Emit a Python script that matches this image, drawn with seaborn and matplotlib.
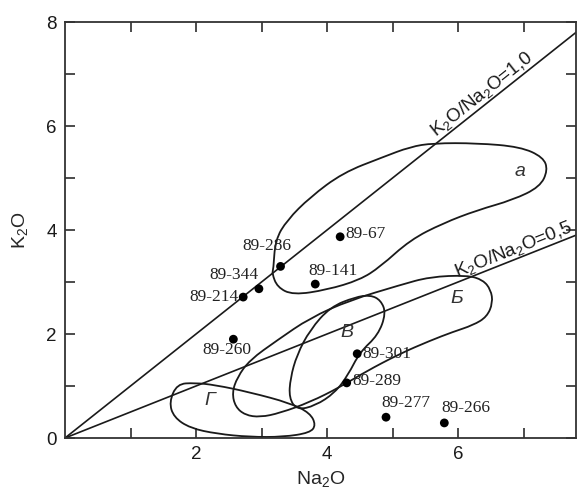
import numpy as np
import pandas as pd
import matplotlib
matplotlib.use("Agg")
import matplotlib.pyplot as plt
from matplotlib.path import Path
from matplotlib.patches import PathPatch
import seaborn as sns

# ---------------- data ----------------
sample_ids = ["89-67", "89-141", "89-286", "89-344", "89-214", "89-260",
              "89-301", "89-289", "89-277", "89-266"]
na2o = [4.20, 3.82, 3.29, 2.96, 2.72, 2.57, 4.46, 4.30, 4.90, 5.79]
k2o = [3.87, 2.96, 3.30, 2.87, 2.71, 1.90, 1.62, 1.06, 0.40, 0.29]

ratio_values = [1.0, 0.5]
ratio_labels = ["K$_2$O/Na$_2$O=1,0", "K$_2$O/Na$_2$O=0,5"]
na_range = [0.0, 8.0]

# field outlines (control polygons of the closed curves)
field_a_x = [3.18, 3.21, 3.39, 3.74, 4.24, 4.85, 5.27, 5.62, 6.29, 6.95, 7.30, 7.37,
             7.25, 6.84, 6.29, 5.77, 5.27, 4.81, 4.50, 4.00, 3.48, 3.24, 3.16]
field_a_y = [3.23, 3.81, 4.19, 4.63, 5.10, 5.40, 5.60, 5.67, 5.67, 5.60, 5.40, 5.15,
             4.83, 4.58, 4.38, 4.13, 3.81, 3.29, 3.04, 2.85, 2.75, 2.90, 3.17]

field_b_x = [2.55, 2.63, 2.82, 3.24, 3.74, 4.35, 5.11, 5.57, 6.14, 6.38, 6.50, 6.53,
             6.44, 6.23, 5.92, 5.57, 5.11, 4.58, 4.20, 3.74, 3.28, 2.98, 2.75, 2.60]
field_b_y = [0.87, 1.17, 1.50, 1.88, 2.31, 2.65, 2.94, 3.10, 3.13, 3.04, 2.85, 2.60,
             2.33, 2.17, 2.04, 1.87, 1.62, 1.27, 0.98, 0.69, 0.48, 0.40, 0.44, 0.60]

field_v_x = [4.43, 4.66, 4.82, 4.90, 4.78, 4.50, 4.32, 4.12, 3.82, 3.54, 3.42, 3.44,
             3.54, 3.74, 4.05]
field_v_y = [2.71, 2.75, 2.65, 2.40, 1.98, 1.65, 1.21, 0.87, 0.62, 0.54, 0.77, 1.15,
             1.60, 2.08, 2.52]

field_g_x = [1.71, 1.98, 2.29, 2.82, 3.44, 3.74, 3.83, 3.74, 3.33, 2.82, 2.32, 1.91,
             1.66, 1.59]
field_g_y = [1.04, 1.06, 1.02, 0.88, 0.67, 0.48, 0.25, 0.10, 0.02, 0.02, 0.08, 0.19,
             0.40, 0.69]

field_names = ["a", "Б", "В", "Г"]
field_label_x = [6.95, 5.98, 4.31, 2.21]
field_label_y = [5.12, 2.69, 2.02, 0.73]

x_ticks = [1, 2, 3, 4, 5, 6, 7]
x_ticklabels = ["", "2", "", "4", "", "6", ""]
y_ticks = [0, 1, 2, 3, 4, 5, 6, 7, 8]
y_ticklabels = ["0", "", "2", "", "4", "", "6", "", "8"]

# ---------------- layout / style ----------------
label_layout = {
    "89-67": ("left", (3.6, 2.2)),
    "89-141": ("center", (13, 9.4)),
    "89-286": ("center", (-10, 14.4)),
    "89-344": ("center", (-18, 10)),
    "89-214": ("right", (-3.6, 0)),
    "89-260": ("center", (-5, -8)),
    "89-301": ("left", (3.6, 0)),
    "89-289": ("left", (4.3, 1.4)),
    "89-277": ("center", (14.4, 10)),
    "89-266": ("center", (15.8, 10.8)),
}

sns.set_style("ticks")
plt.rcParams["font.family"] = ["Liberation Sans", "DejaVu Sans"]
plt.rcParams["mathtext.fontset"] = "custom"
plt.rcParams["mathtext.rm"] = "Liberation Sans"
plt.rcParams["mathtext.it"] = "Liberation Sans:italic"

fig = plt.figure(figsize=(5.77, 4.90), dpi=100)
ax = fig.add_axes([65 / 577, 52 / 490, 511 / 577, 416 / 490])

ink = "#1a1a1a"

# ratio lines
for r in ratio_values:
    df_line = pd.DataFrame({"na": na_range, "k": [r * v for v in na_range]})
    sns.lineplot(data=df_line, x="na", y="k", ax=ax, color=ink, lw=1.2)

# field outlines
def closed_smooth_path(xs, ys):
    pts = np.column_stack([xs, ys])
    mids = (pts + np.roll(pts, -1, axis=0)) / 2.0
    verts = [mids[-1]]
    codes = [Path.MOVETO]
    for i in range(len(pts)):
        verts += [pts[i], mids[i]]
        codes += [Path.CURVE3, Path.CURVE3]
    return Path(verts, codes)

for fx, fy in [(field_a_x, field_a_y), (field_b_x, field_b_y),
               (field_v_x, field_v_y), (field_g_x, field_g_y)]:
    ax.add_patch(PathPatch(closed_smooth_path(fx, fy), facecolor="none",
                           edgecolor=ink, lw=1.3))

for name, fx, fy in zip(field_names, field_label_x, field_label_y):
    ax.text(fx, fy, name, style="italic", fontsize=14, color="#333333",
            ha="center", va="center")

# sample points
df_pts = pd.DataFrame({"Na2O": na2o, "K2O": k2o, "id": sample_ids})
sns.scatterplot(data=df_pts, x="Na2O", y="K2O", ax=ax, color="black", s=40,
                edgecolor="none", zorder=5)
for sid, xv, yv in zip(sample_ids, na2o, k2o):
    ha, off = label_layout[sid]
    ax.annotate(sid, (xv, yv), xytext=off, textcoords="offset points",
                ha=ha, va="center", fontsize=12.5, family="Liberation Serif",
                color="#222222")

# ratio line labels
ax.text(6.46, 6.46, ratio_labels[0], rotation=45, transform_rotates_text=True,
        rotation_mode="anchor", ha="center", va="bottom", fontsize=13.5,
        color=ink)
ax.text(6.9, 3.45, ratio_labels[1], rotation=np.degrees(np.arctan(0.5)),
        transform_rotates_text=True, rotation_mode="anchor", ha="center",
        va="bottom", fontsize=13.5, color=ink)

ax.set_xlim(0, 7.8)
ax.set_ylim(0, 8)
ax.set_xticks(x_ticks)
ax.set_xticklabels(x_ticklabels)
ax.set_yticks(y_ticks)
ax.set_yticklabels(y_ticklabels)
ax.tick_params(direction="in", length=7, width=1.1, top=True, right=True,
               labelsize=13.5, colors=ink, pad=6)
for sp in ax.spines.values():
    sp.set_visible(True)
    sp.set_linewidth(1.3)
    sp.set_color("#333333")

ax.set_xlabel("Na$_2$O", fontsize=14, labelpad=4)
ax.set_ylabel("K$_2$O", fontsize=14, labelpad=12)

fig.savefig("out.png", dpi=100)
